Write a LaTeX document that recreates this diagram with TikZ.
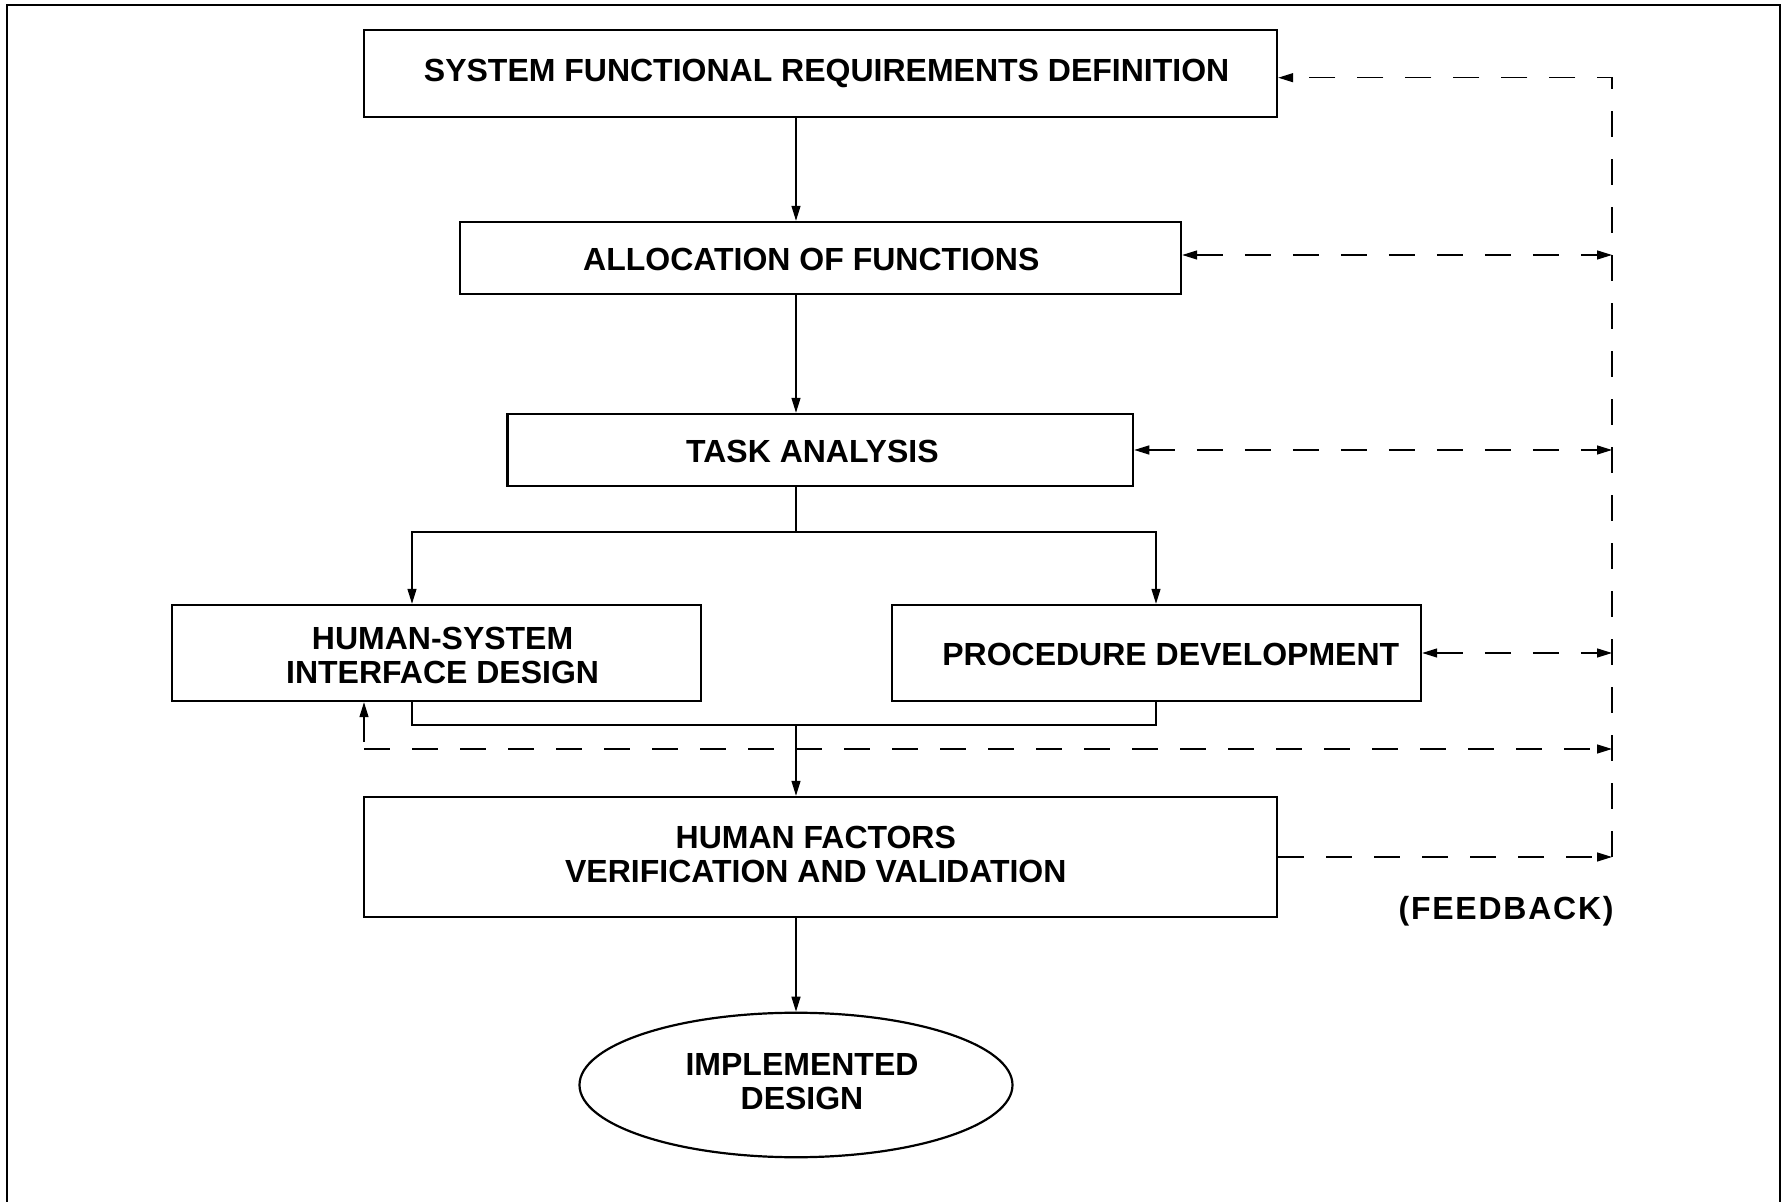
\documentclass[tikz,border=0pt]{standalone}
\usepackage{fontspec}
\newfontfamily\diafont{Liberation Sans}
\newfontfamily\fbfont{Liberation Sans}[LetterSpace=5.5]
\usetikzlibrary{arrows.meta,shapes.geometric}
\tikzset{
  boxnode/.style={draw, line width=1.2pt, inner sep=0pt},
  txt/.style={inner sep=0pt, align=center, font=\diafont\bfseries\fontsize{16}{17}\selectfont},
  conn/.style={line width=0.65pt},
  arr/.style={conn, -{Triangle[length=7.5pt,width=4.5pt]}},
  dsh/.style={line width=0.65pt, dash pattern=on 13pt off 11pt},
  darr/.style={dsh, -{Triangle[length=7.5pt,width=4.5pt]}},
  dbarr/.style={dsh, {Triangle[length=7.5pt,width=4.5pt]}-{Triangle[length=7.5pt,width=4.5pt]}},
}
\begin{document}
\begin{tikzpicture}[x=0.5pt, y=-0.5pt]
\useasboundingbox (0,0) rectangle (1784,1202);
\fill[white] (0,0) rectangle (1784,1202);
% outer frame (open at bottom)
\draw[line width=1.1pt] (7,1215) -- (7,5) -- (1780,5) -- (1780,1215);

% boxes
\node[boxnode, minimum width=456.5pt, minimum height=43.5pt] (sfrd) at (820.5,73.5) {};
\node[boxnode, minimum width=360.5pt, minimum height=36pt] (aof) at (820.5,258) {};
\node[boxnode, minimum width=312.75pt, minimum height=36pt] (ta) at (820.3,450) {};
\node[boxnode, minimum width=264.5pt, minimum height=48pt] (hsid) at (436.5,653) {};
\node[boxnode, minimum width=264.5pt, minimum height=48pt] (pd) at (1156.5,653) {};
\node[boxnode, minimum width=456.5pt, minimum height=60pt] (hfvv) at (820.5,857) {};
\node[draw, line width=1.1pt, ellipse, inner sep=0pt, minimum width=216.5pt, minimum height=72.25pt] (impl) at (796,1085) {};

% texts
\node[txt, text depth=0pt] (sfrdt) at (826.6,70) {SYSTEM FUNCTIONAL REQUIREMENTS DEFINITION};
\node[txt] (aoft) at (811.3,259.5) {ALLOCATION OF FUNCTIONS};
\node[txt] (tat) at (812.4,451.8) {TASK ANALYSIS};
\node[txt] (hsidt) at (442.6,655.5) {HUMAN-SYSTEM\\INTERFACE DESIGN};
\node[txt] (pdt) at (1170.8,654.2) {PROCEDURE DEVELOPMENT};
\node[txt] (hfvvt) at (815.8,854.8) {HUMAN FACTORS\\VERIFICATION AND VALIDATION};
\node[txt] (implt) at (802,1081.5) {IMPLEMENTED\\DESIGN};
\node[inner sep=0pt, anchor=east, font=\fbfont\bfseries\fontsize{16}{17}\selectfont] (fbt) at (1614,911.5) {(FEEDBACK)};

% helper coordinates
\coordinate (tx) at (796,0);
\coordinate (br) at (796,532);
\coordinate (lx) at (412,532);
\coordinate (rx) at (1156,532);
\coordinate (m) at (796,725);
\coordinate (ft) at (1612,77.7);
\coordinate (f2) at (1612,255);
\coordinate (fbot) at (1612,857);
\coordinate (d1) at (364,749);
\coordinate (d2) at (1612,749);
\coordinate (u0) at (364,742);

% main flow
\draw[arr] (sfrd.south -| tx) -- (aof.north -| tx);
\draw[arr] (aof.south -| tx) -- (ta.north -| tx);
\draw[arr] (ta.south -| tx) |- (lx) -- (lx |- hsid.north);
\draw[arr] (br) -| (rx |- pd.north);
\draw[conn] (hsid.south -| lx) -- (lx |- m) -- (rx |- m) -- (pd.south -| rx);
\draw[arr] (m) -- (hfvv.north -| tx);
\draw[arr] (hfvv.south -| tx) -- (impl.north);

% feedback
\draw[darr] (fbot) -- (ft) -- (ft -| sfrd.east);
\draw[dbarr] (f2 -| aof.east) -- (f2);
\draw[dbarr] (ta.east) -- (ta.east -| ft);
\draw[dbarr] (pd.east) -- (pd.east -| ft);
\draw[darr] (d1) -- (d2);
\draw[arr] (u0) -- (u0 |- hsid.south);
\draw[darr] (hfvv.east) -- (fbot);
\end{tikzpicture}
\end{document}
